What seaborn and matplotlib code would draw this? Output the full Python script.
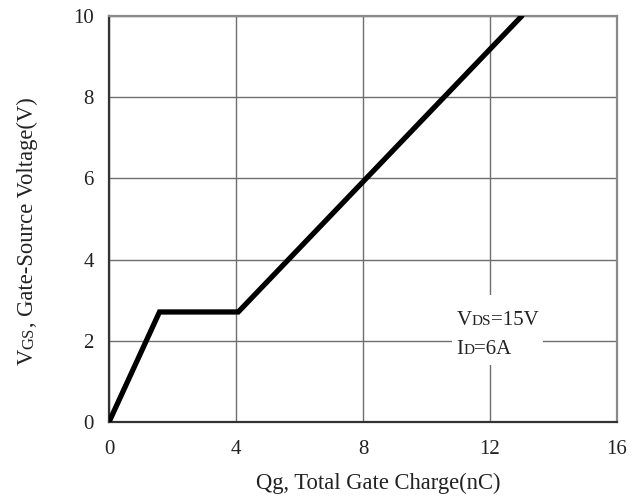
import matplotlib
matplotlib.use("Agg")
import matplotlib.pyplot as plt
import seaborn as sns
import pandas as pd
from matplotlib.offsetbox import TextArea, HPacker, VPacker, AnnotationBbox
from matplotlib.patches import Rectangle

# Gate charge curve breakpoints
qg_nc = [0.0, 1.59, 4.07, 13.0]
vgs_v = [0.0, 2.71, 2.71, 10.0]

x_ticks = [0, 4, 8, 12, 16]
y_ticks = [0, 2, 4, 6, 8, 10]

sns.set_theme(style="white")
plt.rcParams["font.family"] = ["Liberation Serif", "DejaVu Serif"]

fig = plt.figure(figsize=(6.39, 5.01), dpi=100)
ax = fig.add_axes([0.1706, 0.1577, 0.7950, 0.8103])

df = pd.DataFrame({"Qg": qg_nc, "VGS": vgs_v})
sns.lineplot(data=df, x="Qg", y="VGS", ax=ax, color="black", linewidth=3.8,
             sort=False, solid_joinstyle="miter", zorder=3)

ax.set_xlim(0, 16)
ax.set_ylim(0, 10)
ax.set_xticks(x_ticks)
ax.set_yticks(y_ticks)
ax.set_xticklabels([str(t) for t in x_ticks])
ax.set_yticklabels([str(t) for t in y_ticks])
ax.tick_params(axis="x", labelsize=15, length=0, pad=13, colors="#222222")
ax.tick_params(axis="y", labelsize=15, length=0, pad=11, colors="#222222")
ax.grid(True, color="#6e6e6e", linewidth=1.0)
ax.set_axisbelow(True)
ax.set_xlabel("")
ax.set_ylabel("")

for side in ["left", "bottom"]:
    ax.spines[side].set_color("#333333")
    ax.spines[side].set_linewidth(1.6)
for side in ["top", "right"]:
    ax.spines[side].set_color("#8a8a8a")
    ax.spines[side].set_linewidth(1.6)

big, small = 15, 11
label_big, label_small = 16.3, 12
tc = "#222222"

def packed(parts):
    areas = [TextArea(t, textprops=dict(fontsize=s, color=tc)) for t, s in parts]
    return HPacker(children=areas, align="baseline", pad=0, sep=0)

# White panel behind the test conditions, hiding the grid there
ax.add_patch(Rectangle((10.80, 1.40), 2.87, 1.73, facecolor="white",
                       edgecolor="none", zorder=2))

cond = [packed([("V", big), ("DS", small), ("=15V", big)]),
        packed([("I", big), ("D", small), ("=6A", big)])]
block = VPacker(children=cond, align="left", pad=0, sep=7)
ax.add_artist(AnnotationBbox(block, (12.24, 2.15), xycoords="data",
                             box_alignment=(0.5, 0.5), frameon=False, zorder=4))

# X axis label
xl = packed([("Qg, Total Gate Charge(nC)", label_big)])
ax.add_artist(AnnotationBbox(xl, (0.5305, -0.152), xycoords="axes fraction",
                             box_alignment=(0.5, 0.5), frameon=False,
                             annotation_clip=False))

# Y axis label, drawn piecewise so the subscript keeps its own size
fig.canvas.draw()
renderer = fig.canvas.get_renderer()
x_fig = 33 / 639
y = 1 - 365 / 501
pieces = [("V", label_big), ("GS", label_small),
          (", Gate-Source Voltage(V)", label_big)]
for txt, size in pieces:
    t = fig.text(x_fig, y, txt, rotation=90, fontsize=size, color=tc,
                 ha="left", va="baseline", rotation_mode="anchor")
    bb = t.get_window_extent(renderer)
    y += bb.height / fig.bbox.height

fig.savefig("out.png", dpi=100)
